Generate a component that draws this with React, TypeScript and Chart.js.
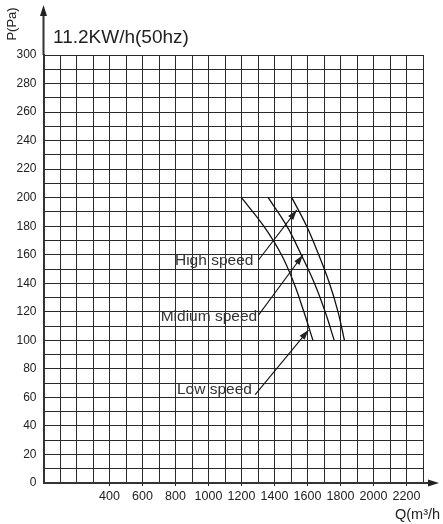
import React, { useEffect, useRef } from "react";
import { Chart, registerables } from "chart.js";

Chart.register(...registerables);

// ---- data ----
const curvePressure = [200, 180, 160, 140, 120, 100];
const lowSpeedQ = [1200, 1335, 1442, 1518, 1578, 1633];
const midSpeedQ = [1362, 1475, 1562, 1642, 1707, 1762];
const highSpeedQ = [1505, 1595, 1668, 1733, 1785, 1824];

const speedLabels = ["High speed", "Midium speed", "Low speed"];
const labelQ = [1272, 1295, 1263];
const labelP = [156, 116.3, 65.2];
const arrowFromQ = [1303, 1303, 1283];
const arrowFromP = [156.3, 117.7, 62];
const arrowToQ = [1535, 1572, 1606];
const arrowToP = [191.3, 159.8, 107.2];

const xLabelValues = [400, 600, 800, 1000, 1200, 1400, 1600, 1800, 2000, 2200];
const yLabelStep = 20;

const titleText = "11.2KW/h(50hz)";
const yAxisTitle = "P(Pa)";
const xAxisTitle = "Q(m³/h";

const FONT = '"Liberation Sans", Arial, sans-serif';
const INK = "#222";

function drawHead(ctx: CanvasRenderingContext2D, x1: number, y1: number, x2: number, y2: number, len: number, half: number) {
  const a = Math.atan2(y2 - y1, x2 - x1);
  ctx.beginPath();
  ctx.moveTo(x2, y2);
  ctx.lineTo(x2 - len * Math.cos(a) + half * Math.sin(a), y2 - len * Math.sin(a) - half * Math.cos(a));
  ctx.lineTo(x2 - len * Math.cos(a) - half * Math.sin(a), y2 - len * Math.sin(a) + half * Math.cos(a));
  ctx.closePath();
  ctx.fill();
}

const decorPlugin = {
  id: "decor",
  afterDraw(chart: any) {
    const { ctx, chartArea, scales } = chart;
    const xs = scales.x;
    const ys = scales.y;
    ctx.save();
    // axis extensions
    ctx.strokeStyle = "#333";
    ctx.fillStyle = "#222";
    ctx.lineWidth = 2;
    ctx.beginPath();
    ctx.moveTo(chartArea.left, chartArea.top);
    ctx.lineTo(chartArea.left, 12);
    ctx.moveTo(chartArea.right, chartArea.bottom);
    ctx.lineTo(431, chartArea.bottom);
    ctx.stroke();
    drawHead(ctx, chartArea.left, 30, chartArea.left, 5, 11, 3.5);
    drawHead(ctx, 400, chartArea.bottom, 439, chartArea.bottom, 11, 3.5);

    // arrow heads for speed pointers
    for (let i = 0; i < speedLabels.length; i++) {
      drawHead(
        ctx,
        xs.getPixelForValue(arrowFromQ[i]),
        ys.getPixelForValue(arrowFromP[i]),
        xs.getPixelForValue(arrowToQ[i]),
        ys.getPixelForValue(arrowToP[i]),
        10,
        3.2
      );
    }

    // speed labels
    ctx.fillStyle = "#333";
    ctx.font = `15.5px ${FONT}`;
    ctx.textAlign = "right";
    ctx.textBaseline = "middle";
    for (let i = 0; i < speedLabels.length; i++) {
      ctx.fillText(speedLabels[i], xs.getPixelForValue(labelQ[i]), ys.getPixelForValue(labelP[i]));
    }

    // title
    ctx.fillStyle = INK;
    ctx.font = `19px ${FONT}`;
    ctx.textAlign = "left";
    ctx.fillText(titleText, 53, 38);

    // x axis title
    ctx.font = `14.5px ${FONT}`;
    ctx.fillText(xAxisTitle, 395, 515);

    // y axis title
    ctx.save();
    ctx.translate(12.5, 24);
    ctx.rotate(-Math.PI / 2);
    ctx.textAlign = "center";
    ctx.font = `13px ${FONT}`;
    ctx.fillText(yAxisTitle, 0, 0);
    ctx.restore();

    ctx.restore();
  },
};

function toPoints(q: number[], p: number[]) {
  return q.map((v, i) => ({ x: v, y: p[i] }));
}

export default function App() {
  const ref = useRef<HTMLCanvasElement | null>(null);
  useEffect(() => {
    if (!ref.current) return;
    const curveStyle = {
      borderColor: "#111",
      borderWidth: 1.3,
      pointRadius: 0,
      showLine: true,
      fill: false,
      tension: 0.4,
    };
    const arrowStyle = {
      borderColor: "#111",
      borderWidth: 1.1,
      pointRadius: 0,
      showLine: true,
      fill: false,
      tension: 0,
    };
    const datasets: any[] = [
      { label: "Low speed", data: toPoints(lowSpeedQ, curvePressure), ...curveStyle },
      { label: "Midium speed", data: toPoints(midSpeedQ, curvePressure), ...curveStyle },
      { label: "High speed", data: toPoints(highSpeedQ, curvePressure), ...curveStyle },
    ];
    for (let i = 0; i < speedLabels.length; i++) {
      datasets.push({
        label: speedLabels[i] + " pointer",
        data: [
          { x: arrowFromQ[i], y: arrowFromP[i] },
          { x: arrowToQ[i], y: arrowToP[i] },
        ],
        ...arrowStyle,
      });
    }
    const chart = new Chart(ref.current, {
      type: "scatter",
      data: { datasets },
      options: {
        responsive: false,
        animation: false,
        devicePixelRatio: 1,
        layout: { padding: { left: 0, top: 55, right: 20, bottom: 0 } },
        plugins: { legend: { display: false }, tooltip: { enabled: false }, title: { display: false } },
        scales: {
          x: {
            type: "linear",
            min: 0,
            max: 2300,
            afterFit: (s: any) => {
              s.height = 41;
            },
            ticks: {
              stepSize: 100,
              autoSkip: false,
              maxRotation: 0,
              padding: 3,
              color: INK,
              font: { family: FONT, size: 12.5 },
              callback: (v: any) => (xLabelValues.includes(Number(v)) ? String(v) : ""),
            },
            grid: {
              color: "#2a2a2a",
              lineWidth: 1,
              drawTicks: true,
              tickLength: 3,
              tickColor: (c: any) => (c.tick && xLabelValues.includes(c.tick.value) ? "#222" : "rgba(0,0,0,0)"),
            },
            border: { display: true, color: "#333", width: 2 },
          },
          y: {
            type: "linear",
            min: 0,
            max: 300,
            afterFit: (s: any) => {
              s.width = 43.5;
            },
            ticks: {
              stepSize: 10,
              autoSkip: false,
              padding: 7,
              color: INK,
              font: { family: FONT, size: 12 },
              callback: (v: any) => (Number(v) % yLabelStep === 0 ? String(v) : ""),
            },
            grid: { color: "#2a2a2a", lineWidth: 1, drawTicks: false },
            border: { display: true, color: "#333", width: 2 },
          },
        },
      },
      plugins: [decorPlugin],
    });
    return () => chart.destroy();
  }, []);
  return (
    <div style={{ position: "fixed", left: 0, top: 0, width: 443, height: 524, background: "#fff" }}>
      <canvas ref={ref} width={443} height={524} style={{ width: 443, height: 524 }} />
    </div>
  );
}
